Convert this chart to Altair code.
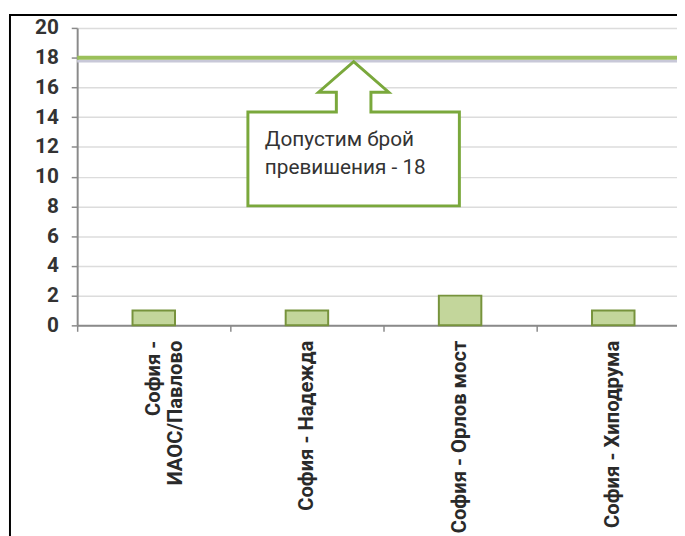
import altair as alt
import pandas as pd

# ---- data ----
CATEGORIES = ["София - ИАОС/Павлово", "София - Надежда", "София - Орлов мост", "София - Хиподрума"]
EXCEEDANCES = [1, 1, 2, 1]
LIMIT = [18]
Y_TICKS = [0, 2, 4, 6, 8, 10, 12, 14, 16, 18, 20]
CALLOUT_LINES = ["Допустим брой", "превишения - 18"]
CALLOUT_CATEGORY = ["София - Надежда"]

bars_df = pd.DataFrame({"station": CATEGORIES, "count": EXCEEDANCES})
limit_df = pd.DataFrame({"limit": LIMIT})
callout_df = pd.DataFrame({"station": CALLOUT_CATEGORY, "limit": LIMIT})

W, H = 607, 301
FONT = "Roboto"
AXIS_GREY = "#8a8a8a"

x_scale = alt.Scale(domain=CATEGORIES, range=[0, 620], paddingInner=0, paddingOuter=0)
y_scale = alt.Scale(domain=[0, 20], nice=False)

x_axis = alt.Axis(
    title=None, bandPosition=0, labelAngle=270,
    labelAlign="right", labelBaseline="middle", labelPadding=9,
    labelFont=FONT, labelFontSize=20.5, labelFontWeight="bold", labelColor="#2a2a2a",
    labelLimit=400, labelLineHeight=23, labelOverlap=False,
    labelExpr="indexof(datum.label, '/') > 0 ? split(replace(datum.label, ' - ', ' -|'), '|') : datum.label",
    tickSize=6, tickColor=AXIS_GREY, tickWidth=1.5,
    domainColor=AXIS_GREY, domainWidth=2, grid=False,
)
y_axis = alt.Axis(
    title=None, values=Y_TICKS, grid=True, gridColor="#dcdcdc", gridWidth=1.5,
    domainColor=AXIS_GREY, domainWidth=2, tickColor=AXIS_GREY, tickSize=6, tickWidth=1.5,
    labelFont=FONT, labelFontSize=21, labelFontWeight="bold", labelColor="#333333",
    labelPadding=13,
)

bars = alt.Chart(bars_df).mark_bar(
    size=43, fill="#c3d69b", stroke="#77933c", strokeWidth=2
).encode(
    x=alt.X("station:N", scale=x_scale, axis=x_axis, sort=CATEGORIES),
    y=alt.Y("count:Q", scale=y_scale, axis=y_axis),
)

shadow = alt.Chart(limit_df).mark_rule(color="#c8c8d8", strokeWidth=3, yOffset=3.5).encode(
    y=alt.Y("limit:Q", scale=y_scale, axis=y_axis)
)
limit_line = alt.Chart(limit_df).mark_rule(color="#9bc05a", strokeWidth=4).encode(
    y=alt.Y("limit:Q", scale=y_scale, axis=y_axis)
)

CALLOUT_SHAPE = (
    "M0,0 L0.355,0.31 L0.175,0.31 L0.175,0.51 L1.07,0.51 L1.07,1.46 "
    "L-1.07,1.46 L-1.07,0.51 L-0.175,0.51 L-0.175,0.31 L-0.355,0.31 Z"
)
callout = alt.Chart(callout_df).mark_point(
    shape=CALLOUT_SHAPE, size=40000, filled=True, fill="white", opacity=1,
    stroke="#7aa83c", strokeWidth=3, strokeJoin="miter", yOffset=4,
).encode(
    x=alt.X("station:N", bandPosition=0.805, scale=x_scale, axis=x_axis, sort=CATEGORIES),
    y=alt.Y("limit:Q", scale=y_scale, axis=y_axis),
)
callout_text = alt.Chart(callout_df).mark_text(
    align="left", baseline="middle", font=FONT, fontSize=21, lineHeight=29,
    color="#333333", dy=83,
).encode(
    x=alt.X("station:N", bandPosition=0.225, scale=x_scale, axis=x_axis, sort=CATEGORIES),
    y=alt.Y("limit:Q", scale=y_scale, axis=y_axis),
    text=alt.value(CALLOUT_LINES),
)

frame = alt.Chart(limit_df).mark_rect(
    fillOpacity=0, stroke="black", strokeWidth=2
).encode(
    x=alt.value(-68), x2=alt.value(W + 100), y=alt.value(-13), y2=alt.value(H + 300)
)

chart = alt.layer(bars, shadow, limit_line, callout, callout_text, frame).properties(
    width=W, height=H,
    background="white",
    autosize=alt.AutoSizeParams(type="none"),
    padding={"left": 70, "top": 17, "right": 0, "bottom": 210},
).configure_view(stroke=None)

chart.save("out.html", embed_options={"renderer": "svg", "actions": False})
